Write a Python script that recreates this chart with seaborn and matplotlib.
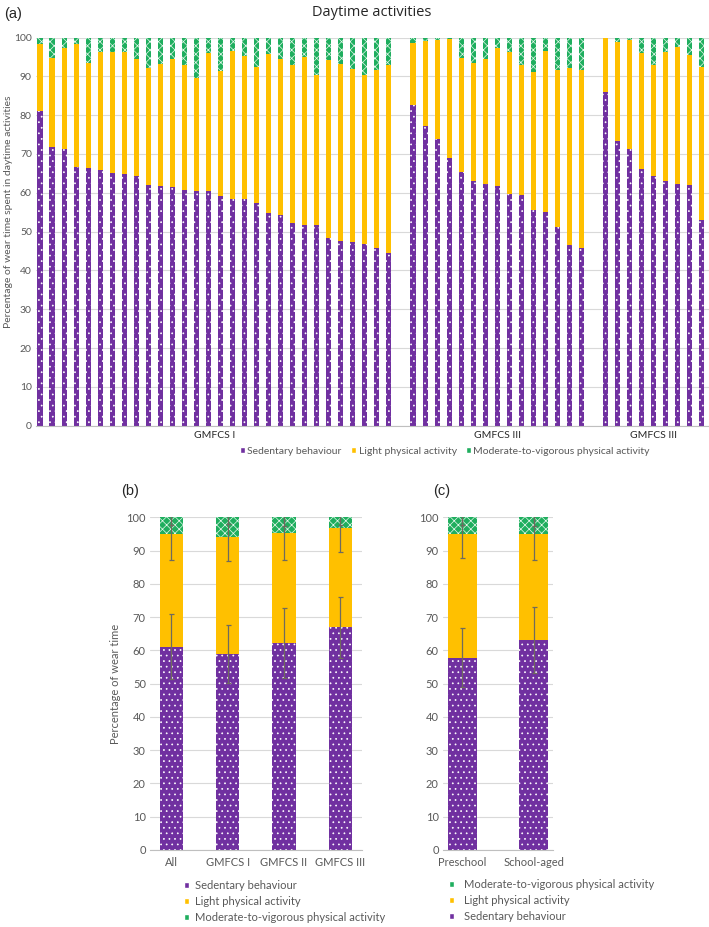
import numpy as np
import pandas as pd
import matplotlib
matplotlib.use("Agg")
import matplotlib.pyplot as plt
from matplotlib.patches import Patch
import seaborn as sns

sns.set_style("white")
plt.rcParams['font.family'] = ['Lato', 'DejaVu Sans']
plt.rcParams['hatch.linewidth'] = 0.5

SED = "#7030a0"
LIGHT = "#ffc000"
MVPA = "#1fae5e"
GREY = "#595959"
GRID = "#d9d9d9"

# ---- (a) one bar per child, % of wear time ----
g1_sed = [81.1, 71.9, 71.3, 66.7, 66.4, 66.0, 65.0, 64.9, 64.4, 61.9, 61.8, 61.6, 60.8, 60.4, 60.4,
          59.3, 58.5, 58.3, 57.4, 54.9, 54.3, 52.1, 51.7, 51.6, 48.4, 47.5, 47.2, 46.7, 45.8, 44.5]
g1_light = [17.3, 22.9, 26.0, 31.6, 27.1, 30.2, 31.3, 31.4, 30.0, 30.3, 31.5, 32.9, 32.1, 29.2, 35.5,
            32.2, 38.0, 37.0, 34.9, 40.8, 40.1, 40.8, 43.2, 38.8, 45.9, 45.8, 44.6, 43.6, 45.9, 48.3]
g1_mvpa = [1.6, 5.2, 2.7, 1.7, 6.5, 3.8, 3.7, 3.7, 5.6, 7.8, 6.7, 5.5, 7.1, 10.4, 4.1,
           8.5, 3.5, 4.7, 7.7, 4.3, 5.6, 7.1, 5.1, 9.6, 5.7, 6.7, 8.2, 9.7, 8.3, 7.2]

g2_sed = [82.5, 77.3, 73.9, 69.0, 65.4, 63.1, 62.3, 61.8, 59.8, 59.5, 55.6, 55.0, 51.3, 46.6, 45.8]
g2_light = [16.1, 21.8, 25.4, 30.6, 29.3, 30.4, 32.1, 35.5, 36.4, 33.4, 35.5, 41.6, 40.3, 45.5, 45.8]
g2_mvpa = [1.4, 0.9, 0.7, 0.4, 5.3, 6.5, 5.6, 2.7, 3.8, 7.1, 8.9, 3.4, 8.4, 7.9, 8.4]

g3_sed = [85.9, 73.3, 71.2, 66.1, 64.4, 63.1, 62.3, 62.1, 53.1]
g3_light = [14.1, 25.6, 28.2, 29.8, 28.6, 33.1, 35.3, 33.3, 39.4]
g3_mvpa = [0.0, 1.1, 0.6, 4.1, 7.0, 3.8, 2.4, 4.6, 7.5]

group_names = ["GMFCS I", "GMFCS III", "GMFCS III"]

# ---- (b) group means and SD ----
b_groups = ["All", "GMFCS I", "GMFCS II", "GMFCS III"]
b_sed = [61.1, 58.9, 62.1, 66.9]
b_light = [34.0, 35.3, 33.3, 29.8]
b_mvpa = [4.9, 5.8, 4.6, 3.3]
b_sed_sd = [9.7, 8.6, 10.5, 9.2]
b_light_sd = [8.0, 7.3, 8.3, 7.1]
b_mvpa_sd = [2.3, 2.1, 2.7, 2.2]

# ---- (c) age groups ----
c_groups = ["Preschool", "School-aged"]
c_sed = [57.8, 63.1]
c_light = [37.3, 31.9]
c_mvpa = [4.9, 5.0]
c_sed_sd = [8.9, 9.8]
c_light_sd = [7.2, 7.7]
c_mvpa_sd = [2.3, 2.7]

labels = ["Sedentary behaviour", "Light physical activity", "Moderate-to-vigorous physical activity"]


def make_df(ids, sed, light, mvpa):
    df = pd.DataFrame({"id": ids, "sed": sed, "light": light, "mvpa": mvpa})
    df["sed_light"] = df["sed"] + df["light"]
    df["total"] = df["sed_light"] + df["mvpa"]
    return df


def stacked(ax, df, order, width):
    layers = [("total", MVPA, "xxxx"), ("sed_light", LIGHT, None), ("sed", SED, "...")]
    for col, colour, hatch in layers:
        n0 = len(ax.patches)
        sns.barplot(data=df, x="id", y=col, order=order, color=colour, width=width,
                    errorbar=None, saturation=1, ax=ax)
        for p in ax.patches[n0:]:
            p.set_linewidth(0)
            if hatch:
                p.set_hatch(hatch)
                p.set_edgecolor("#e8f8ee" if colour == MVPA else "white")


def style(ax, size):
    ax.set_ylim(0, 100)
    ax.set_yticks(range(0, 101, 10))
    ax.yaxis.grid(True, color=GRID, lw=0.8)
    ax.set_axisbelow(True)
    sns.despine(ax=ax, left=True)
    ax.spines['bottom'].set_color("#bfbfbf")
    ax.tick_params(length=0, colors=GREY, labelsize=size, pad=3)
    ax.set_xlabel("")
    ax.set_ylabel("")


def errbars(ax, sed, light, mvpa, sed_sd, light_sd, mvpa_sd):
    x = np.arange(len(sed))
    s = np.array(sed)
    sl = s + np.array(light)
    tot = sl + np.array(mvpa)
    for val, sd in [(s, sed_sd), (sl, light_sd), (tot, mvpa_sd)]:
        ax.errorbar(x, val, yerr=sd, fmt="none", ecolor="#6f6a5e", elinewidth=0.9,
                    capsize=1.8, capthick=0.9, zorder=5)


fig = plt.figure(figsize=(7.09, 9.27), dpi=100)

# ---------- panel (a) ----------
ax_a = fig.add_axes([0.0508, 0.5408, 0.9492, 0.4187])
groups = [(g1_sed, g1_light, g1_mvpa), (g2_sed, g2_light, g2_mvpa), (g3_sed, g3_light, g3_mvpa)]
frames, order, group_ids = [], [], []
for gi, (s, l, m) in enumerate(groups):
    ids = [f"g{gi}_{k:02d}" for k in range(len(s))]
    frames.append(make_df(ids, s, l, m))
    if gi > 0:
        order.append(f"gap{gi}")
    order += ids
    group_ids.append(ids)
df_a = pd.concat(frames, ignore_index=True)
stacked(ax_a, df_a, order, 0.42)
style(ax_a, 7.5)
ax_a.set_xticks([])
ax_a.set_xlim(-0.33, 55.6)
for name, ids in zip(group_names, group_ids):
    pos = np.mean([order.index(i) for i in ids])
    ax_a.annotate(name, xy=(pos, 0), xycoords=("data", "axes fraction"), xytext=(0, -7),
                  textcoords="offset points", ha="center", va="center", fontsize=7.5, color="#262626")
ax_a.set_ylabel("Percentage of wear time spent in daytime activities", fontsize=7.5, color=GREY)
ax_a.yaxis.set_label_coords(-0.034, 0.55)

handles = [Patch(facecolor=c) for c in [SED, LIGHT, MVPA]]
fig.legend(handles, labels, loc="center", bbox_to_anchor=(445 / 709, 1 - 451 / 927), ncol=3,
           frameon=False, fontsize=7.5, labelcolor=GREY, handlelength=0.45, handleheight=0.45,
           handletextpad=0.25, columnspacing=0.9, borderaxespad=0)

fig.text(372 / 709, 1 - 12 / 927, "Daytime activities", ha="center", va="center",
         fontsize=10.5, family="Open Sans", color="#262626")
fig.text(4 / 709, 1 - 14 / 927, "(a)", ha="left", va="center", fontsize=10.5, family="Liberation Sans")

# ---------- panel (b) ----------
ax_b = fig.add_axes([0.2116, 0.0831, 0.2983, 0.3589])
df_b = make_df(b_groups, b_sed, b_light, b_mvpa)
stacked(ax_b, df_b, b_groups, 0.41)
errbars(ax_b, b_sed, b_light, b_mvpa, b_sed_sd, b_light_sd, b_mvpa_sd)
style(ax_b, 8)
ax_b.tick_params(axis="x", pad=5)
ax_b.set_ylabel("Percentage of wear time", fontsize=8, color=GREY, labelpad=4)
fig.legend(handles, labels, loc="upper left", bbox_to_anchor=(184 / 709, 1 - 880 / 927), ncol=1,
           frameon=False, fontsize=8, labelcolor=GREY, handlelength=0.45, handleheight=0.45,
           handletextpad=0.5, labelspacing=0.45, borderaxespad=0, borderpad=0)
fig.text(121 / 709, 1 - 491 / 927, "(b)", ha="left", va="center", fontsize=10.5, family="Liberation Sans")

# ---------- panel (c) ----------
ax_c = fig.add_axes([0.6248, 0.0831, 0.1551, 0.3589])
df_c = make_df(c_groups, c_sed, c_light, c_mvpa)
stacked(ax_c, df_c, c_groups, 0.40)
errbars(ax_c, c_sed, c_light, c_mvpa, c_sed_sd, c_light_sd, c_mvpa_sd)
style(ax_c, 8)
ax_c.tick_params(axis="x", pad=5)
fig.legend(handles[::-1], labels[::-1], loc="upper left", bbox_to_anchor=(449 / 709, 1 - 879 / 927), ncol=1,
           frameon=False, fontsize=8, labelcolor=GREY, handlelength=0.45, handleheight=0.45,
           handletextpad=0.9, labelspacing=0.45, borderaxespad=0, borderpad=0)
fig.text(433 / 709, 1 - 491 / 927, "(c)", ha="left", va="center", fontsize=10.5, family="Liberation Sans")

fig.savefig("out.png", dpi=100)
